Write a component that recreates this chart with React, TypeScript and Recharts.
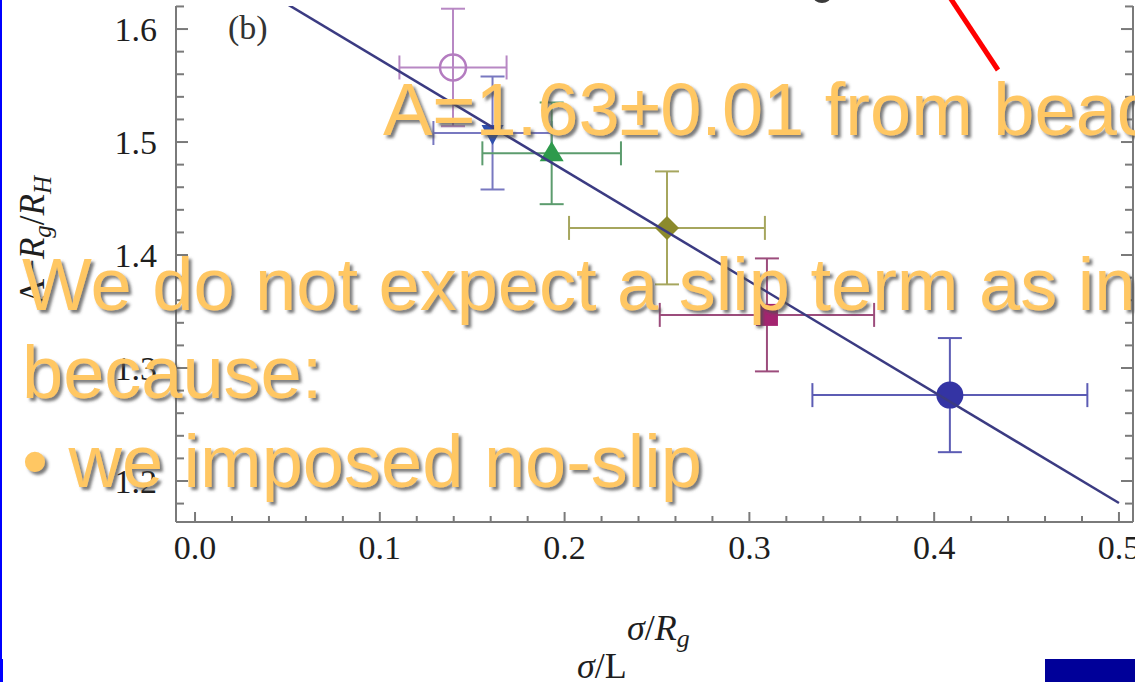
import React from 'react';
import { ScatterChart, Scatter, XAxis, YAxis, ErrorBar, Label } from 'recharts';

const CHART_W = 1135;
const CHART_H = 682;

// Measured points: sigma / R_g against A - R_g / R_H
const sigmaRg = [0.1396, 0.161, 0.193, 0.2554, 0.3095, 0.4085];
const ratio = [1.566, 1.508, 1.49, 1.424, 1.347, 1.276];
const sigmaErr = [0.029, 0.032, 0.0375, 0.053, 0.058, 0.0744];
const ratioErr = [0.052, 0.05, 0.045, 0.05, 0.05, 0.0505];
const markerKind = ['openCircle', 'triangleDown', 'triangleUp', 'diamond', 'square', 'circle'];
const markerColor = ['#b47cc0', '#2f4fae', '#2e9a4c', '#8c8a2c', '#a42470', '#3434a4'];
const errorColor = ['#b888c4', '#7878c0', '#5c9c6e', '#a6a65e', '#9c4c7c', '#5c5cb4'];

// Linear fit through the points
const fitSigma = [0, 0.5];
const fitRatio = [1.671, 1.1805];

// Axis ranges and ticks
const xDomain = [-0.0103, 0.5076];
const yDomain = [1.1637, 1.6204];
const xTicks = [0, 0.02, 0.04, 0.06, 0.08, 0.1, 0.12, 0.14, 0.16, 0.18, 0.2, 0.22, 0.24, 0.26, 0.28, 0.3, 0.32, 0.34, 0.36, 0.38, 0.4, 0.42, 0.44, 0.46, 0.48, 0.5];
const yTicks = [1.18, 1.2, 1.22, 1.24, 1.26, 1.28, 1.3, 1.32, 1.34, 1.36, 1.38, 1.4, 1.42, 1.44, 1.46, 1.48, 1.5, 1.52, 1.54, 1.56, 1.58, 1.6, 1.62];
const xTickLabels = ['0.0', '0.1', '0.2', '0.3', '0.4', '0.5'];
const yTickLabels = ['1.2', '1.3', '1.4', '1.5', '1.6'];

// Slide text drawn over the chart
const headline = 'A=1.63±0.01 from bead';
const bodyLines = ['We do not expect a slip term as in', 'because:', '• we imposed no-slip'];

const AXIS = '#7a7a7a';
const SERIF = '"Liberation Serif", "Times New Roman", serif';
const SANS = '"Liberation Sans", Arial, sans-serif';
const ORANGE = '#ffc764';

const labelFor = (labels: string[], v: number) =>
  labels.find((l) => Math.abs(parseFloat(l) - v) < 1e-6);

const XTick = (props: any) => {
  const { x, y, payload } = props;
  const text = labelFor(xTickLabels, payload.value);
  return (
    <g>
      <line x1={x} x2={x} y1={y} y2={y - (text ? 10 : 6)} stroke={AXIS} strokeWidth={2} />
      {text && (
        <text x={x} y={y + 37} textAnchor="middle" fontFamily={SERIF} fontSize={34} fill="#1e1e1e">
          {text}
        </text>
      )}
    </g>
  );
};

const YTick = (props: any) => {
  const { x, y, payload } = props;
  const text = labelFor(yTickLabels, payload.value);
  return (
    <g>
      <line x1={x} x2={x + (text ? 12 : 8)} y1={y} y2={y} stroke={AXIS} strokeWidth={2} />
      {text && (
        <text x={x - 19} y={y + 12} textAnchor="end" fontFamily={SERIF} fontSize={34} fill="#1e1e1e">
          {text}
        </text>
      )}
    </g>
  );
};

const RightTick = (props: any) => {
  const { x, y, payload } = props;
  const major = !!labelFor(yTickLabels, payload.value);
  return <line x1={x} x2={x - (major ? 12 : 8)} y1={y} y2={y} stroke={AXIS} strokeWidth={2} />;
};

const XTitle = (props: any) => {
  const { x, y } = props.viewBox;
  return (
    <g fontFamily={SERIF} fontSize={36} fill="#1e1e1e">
      <text x={x + 451} y={y + 118}>
        <tspan fontStyle="italic">σ</tspan>
        <tspan>/</tspan>
        <tspan fontStyle="italic">R</tspan>
        <tspan fontStyle="italic" fontSize={26} dy={7}>g</tspan>
      </text>
      <text x={x + 401} y={y + 156}>
        <tspan fontStyle="italic">σ</tspan>
        <tspan>/L</tspan>
      </text>
    </g>
  );
};

const YTitle = (props: any) => {
  const { x, y, height } = props.viewBox;
  const bx = x + 44;
  const cy = y + height / 2 - 24;
  return (
    <text
      x={bx}
      y={cy}
      transform={`rotate(-90 ${bx} ${cy})`}
      textAnchor="middle"
      fontFamily={SERIF}
      fontSize={35}
      fill="#1e1e1e"
    >
      <tspan>A−</tspan>
      <tspan fontStyle="italic">R</tspan>
      <tspan fontStyle="italic" fontSize={25} dy={7}>g</tspan>
      <tspan dy={-7}>/</tspan>
      <tspan fontStyle="italic">R</tspan>
      <tspan fontStyle="italic" fontSize={25} dy={7}>H</tspan>
    </text>
  );
};

const makeMarker = (kind: string, color: string) => (props: any) => {
  const { cx, cy } = props;
  switch (kind) {
    case 'openCircle':
      return <circle cx={cx} cy={cy} r={13} fill="none" stroke={color} strokeWidth={2.5} />;
    case 'triangleDown':
      return <polygon points={`${cx - 11},${cy - 8} ${cx + 11},${cy - 8} ${cx},${cy + 12}`} fill={color} />;
    case 'triangleUp':
      return <polygon points={`${cx - 12},${cy + 8} ${cx + 12},${cy + 8} ${cx},${cy - 12}`} fill={color} />;
    case 'diamond':
      return <polygon points={`${cx},${cy - 12} ${cx + 12},${cy} ${cx},${cy + 12} ${cx - 12},${cy}`} fill={color} />;
    case 'square':
      return <rect x={cx - 11} y={cy - 11} width={22} height={22} fill={color} />;
    default:
      return <circle cx={cx} cy={cy} r={13.5} fill={color} />;
  }
};

const points = sigmaRg.map((x, i) => ({ x, y: ratio[i], ex: sigmaErr[i], ey: ratioErr[i] }));
const fitLine = fitSigma.map((x, i) => ({ x, y: fitRatio[i] }));

export default function App() {
  return (
    <div
      style={{
        position: 'absolute',
        left: 0,
        top: 0,
        width: CHART_W,
        height: CHART_H,
        overflow: 'hidden',
        background: '#ffffff',
      }}
    >
      <ScatterChart width={CHART_W} height={CHART_H} margin={{ top: 6, right: 0, bottom: 0, left: 0 }}>
        <XAxis
          type="number"
          dataKey="x"
          domain={xDomain}
          ticks={xTicks}
          interval={0}
          allowDataOverflow
          tickSize={0}
          tickMargin={0}
          tickLine={false}
          axisLine={{ stroke: AXIS, strokeWidth: 2 }}
          tick={<XTick />}
          height={160}
        >
          <Label content={XTitle} />
        </XAxis>
        <YAxis
          type="number"
          dataKey="y"
          domain={yDomain}
          ticks={yTicks}
          interval={0}
          allowDataOverflow
          tickSize={0}
          tickMargin={0}
          tickLine={false}
          axisLine={{ stroke: AXIS, strokeWidth: 2 }}
          tick={<YTick />}
          width={176}
        >
          <Label content={YTitle} />
        </YAxis>
        <YAxis
          yAxisId="frame"
          orientation="right"
          type="number"
          domain={yDomain}
          ticks={yTicks}
          interval={0}
          allowDataOverflow
          tickSize={0}
          tickMargin={0}
          tickLine={false}
          axisLine={{ stroke: AXIS, strokeWidth: 2 }}
          tick={<RightTick />}
          width={2}
        />
        {points.map((p, i) => (
          <Scatter
            key={markerKind[i]}
            data={[p]}
            isAnimationActive={false}
            shape={makeMarker(markerKind[i], markerColor[i])}
            legendType="none"
          >
            <ErrorBar dataKey="ex" direction="x" width={12} stroke={errorColor[i]} strokeWidth={2} />
            <ErrorBar dataKey="ey" direction="y" width={12} stroke={errorColor[i]} strokeWidth={2} />
          </Scatter>
        ))}
        <Scatter
          data={fitLine}
          isAnimationActive={false}
          line={{ stroke: '#3b3b82', strokeWidth: 2.5 }}
          shape={() => <g />}
          legendType="none"
        />
      </ScatterChart>

      <svg
        width={CHART_W}
        height={CHART_H}
        style={{ position: 'absolute', left: 0, top: 0, pointerEvents: 'none' }}
      >
        <defs>
          <filter id="txtShadow" x="-5%" y="-20%" width="115%" height="150%">
            <feDropShadow dx={3} dy={3} stdDeviation={1.5} floodColor="#505050" floodOpacity={0.75} />
          </filter>
        </defs>
        <text x={228} y={39} fontFamily={SERIF} fontSize={34} fill="#333">(b)</text>
        <ellipse cx={822} cy={-4} rx={9} ry={7} fill="#3a3a3a" />
        <line x1={945} y1={-10} x2={998} y2={70} stroke="#ff0000" strokeWidth={5} />
        <rect x={0} y={0} width={2} height={659} fill="#0000ff" />
        <rect x={0} y={659} width={3} height={23} fill="#0000ff" />
        <rect x={1045} y={659} width={90} height={23} fill="#000099" />
        <g fontFamily={SANS} fontSize={74} fill={ORANGE} filter="url(#txtShadow)">
          <text x={383} y={135}>{headline}</text>
          <text x={22} y={310}>{bodyLines[0]}</text>
          <text x={22} y={398}>{bodyLines[1]}</text>
          <text x={22} y={487}>{bodyLines[2]}</text>
        </g>
      </svg>
    </div>
  );
}
